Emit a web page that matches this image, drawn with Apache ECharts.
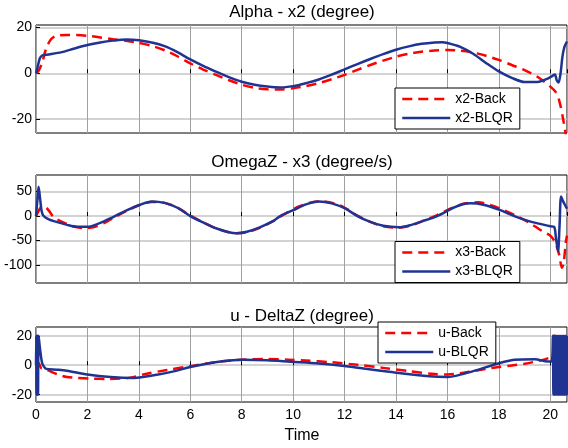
<!DOCTYPE html>
<html><head><meta charset="utf-8">
<script src="https://cdn.jsdelivr.net/npm/echarts@6/dist/echarts.min.js"></script>
<style>html,body{margin:0;padding:0;background:#fff}#c{width:568px;height:448px}</style>
</head><body><div id="c"></div>
<script>
// ---- data (time, value) ----
const titles = ['Alpha - x2 (degree)', 'OmegaZ - x3 (degree/s)', 'u - DeltaZ (degree)'];
const xLabel = 'Time';
const timeTicks = [0, 2, 4, 6, 8, 10, 12, 14, 16, 18, 20];
const alphaTicks = [-20, 0, 20];
const omegaTicks = [-100, -50, 0, 50];
const deltaTicks = [-20, 0, 20];

const alphaBack = [[0,0],[0.1,1],[0.25,5],[0.4,11],[0.6,15],[0.8,16.3],[1.2,16.7],[2,16.3],[2.5,15.6],[3,14.8],[3.5,14.1],[4,13.2],[4.5,11.9],[5,10],[5.5,7.4],[6,4.3],[6.5,1.6],[7,-0.7],[7.5,-3],[8,-5],[8.5,-6.3],[9,-7],[9.5,-7.1],[10,-6.5],[10.5,-5.6],[11,-4.3],[11.5,-2.6],[12,-0.7],[12.5,1.5],[13,3.6],[13.5,5.5],[14,7.2],[14.5,8.5],[15,9.4],[15.5,9.9],[16,10.1],[16.5,9.8],[17,9],[17.5,7.6],[18,5.8],[18.5,3.6],[19,1.4],[19.5,-1.5],[20,-5.8],[20.2,-8],[20.35,-12],[20.5,-20],[20.62,-28]];
const alphaBLQR = [[0,0],[0.05,2],[0.15,6.5],[0.25,7.8],[0.5,8.2],[1,9.2],[1.5,10.8],[2,12.3],[2.5,13.4],[3,14.2],[3.5,14.7],[4,14.4],[4.5,13.4],[5,11.8],[5.5,9.2],[6,6],[6.5,3.2],[7,0.7],[7.5,-1.7],[8,-3.7],[8.5,-5],[9,-5.8],[9.5,-6.2],[10,-5.6],[10.5,-4.3],[11,-2.7],[11.5,-0.6],[12,1.7],[12.5,4],[13,6.2],[13.5,8.3],[14,10.2],[14.5,11.7],[15,12.8],[15.5,13.4],[15.8,13.5],[16,13.2],[16.5,11.5],[17,8.5],[17.5,4.5],[18,0.8],[18.5,-2],[19,-3.8],[19.5,-3.8],[19.9,-2.3],[20.1,-1],[20.18,-0.5],[20.25,-3],[20.32,-4],[20.4,0],[20.47,7],[20.55,11.5],[20.65,13.8]];

const omegaBack = [[0,0],[0.1,10],[0.2,18],[0.35,18],[0.5,11],[0.65,0],[0.8,-6],[1.2,-16],[1.5,-22],[1.9,-25],[2.3,-22],[2.7,-13],[3,-4],[3.5,10],[4,22],[4.5,29],[5,27],[5.5,17],[6,1],[6.5,-13],[7,-25],[7.5,-33],[7.8,-35],[8.2,-33],[8.7,-24],[9.2,-11],[9.7,5],[10.2,19],[10.7,28],[11.1,30],[11.6,26],[12,17],[12.5,1],[13,-12],[13.5,-21],[14.1,-24],[14.6,-19],[15,-11],[15.6,2],[16.2,17],[16.7,26],[17.2,28],[17.7,22],[18.2,12],[18.7,0],[19.2,-14],[19.6,-28],[19.8,-34],[20,-40],[20.2,-55],[20.35,-80],[20.45,-106],[20.52,-96],[20.6,-55],[20.65,-40]];
const omegaBLQR = [[0,0],[0.05,30],[0.1,60],[0.15,40],[0.22,10],[0.3,0],[0.5,-7],[0.8,-12],[1.2,-18],[1.6,-22],[2,-22],[2.5,-14],[3,-2],[3.5,11],[4,22],[4.5,30],[5,27],[5.5,17],[6,0],[6.5,-13],[7,-25],[7.5,-33],[7.8,-35],[8.2,-32],[8.7,-23],[9.2,-11],[9.5,0],[10,12],[10.5,24],[11,30],[11.5,26],[12,16],[12.5,0],[13,-12],[13.5,-20],[14.1,-23],[14.6,-18],[15,-11],[15.6,0],[16.2,16],[16.6,24],[16.9,26],[17.4,23],[18,13],[18.6,0],[19.2,-11],[19.6,-16],[20,-21],[20.15,-22],[20.22,-45],[20.3,-72],[20.36,-20],[20.42,40],[20.5,30],[20.6,20],[20.65,15]];

const deltaBack = [[0,0],[0.1,1.5],[0.2,-2],[0.35,-2.5],[0.6,-4.5],[0.85,-6.3],[1.2,-8],[1.6,-8.6],[2.1,-9.1],[2.8,-9.3],[3.6,-8.6],[4.3,-5.8],[5.1,-3.2],[6,-0.6],[7,2.2],[8,3.8],[9,4.2],[9.8,3.8],[10.5,3.2],[11.5,2],[12.5,0.3],[13.5,-1.8],[14.5,-4],[15.5,-6],[16,-6.3],[16.5,-5.5],[17,-4],[17.5,-2.5],[18,-1.2],[18.5,-0.2],[19,1],[19.5,2.8],[19.9,4.7],[20.1,6.5],[20.15,20],[20.2,20]];
const deltaBLQR = [[0,0],[0.01,20],[0.02,-20],[0.03,20],[0.04,-20],[0.05,20],[0.06,-20],[0.07,20],[0.08,-20],[0.1,20],[0.15,12],[0.22,3],[0.27,0],[0.4,-2.5],[0.8,-3],[1.2,-3.7],[2,-6.3],[2.9,-8],[3.8,-8.6],[4.7,-6.5],[5.4,-4],[6,-1.2],[6.9,1.9],[8,3.7],[9,3.4],[9.9,2.4],[11,1.2],[12,-0.5],[12.6,-1.9],[13.9,-4.8],[15.3,-7.5],[16,-8],[16.7,-5.5],[17.3,-2.5],[17.8,0.3],[18.6,3.7],[19.4,4.1],[19.9,2.5],[20.05,2.5],[20.1,20],[20.12,-20],[20.14,20],[20.16,-20],[20.18,20],[20.2,-20],[20.22,20],[20.24,-20],[20.26,20],[20.28,-20],[20.3,20],[20.32,-20],[20.34,20],[20.36,-20],[20.38,20],[20.4,-20],[20.42,20],[20.44,-20],[20.46,20],[20.48,-20],[20.5,20],[20.52,-20],[20.54,20],[20.56,-20],[20.58,20],[20.6,-20],[20.62,20],[20.64,-20],[20.66,20]];

const names = [['x2-Back','x2-BLQR'],['x3-Back','x3-BLQR'],['u-Back','u-BLQR']];
const yRanges = [[-26,21],[-137,84],[-25,26]];
const yTicks = [alphaTicks, omegaTicks, deltaTicks];
const seriesData = [[alphaBack, alphaBLQR],[omegaBack, omegaBLQR],[deltaBack, deltaBLQR]];

// ---- layout ----
const FONT = '"Liberation Sans", Arial, Helvetica, sans-serif';
const gridTops = [25, 175, 327];
const gridHeights = [108, 108, 75];
const titleY = [12.5, 162.5, 316];
const legendPos = [[395, 88],[395, 241.5],[378, 322]];
const RED = '#ff0000', BLUE = '#1f3393';

const chart = echarts.init(document.getElementById('c'), null, {renderer:'canvas'});
const grid = [], xAxis = [], yAxis = [], series = [], legend = [], graphic = [];
for (let i = 0; i < 3; i++) {
  grid.push({left:36, right:1, top:gridTops[i], height:gridHeights[i], show:true, borderColor:'#000', borderWidth:1, backgroundColor:'#fff', containLabel:false});
  xAxis.push({type:'value', gridIndex:i, min:0, max:20.65, interval:2,
    axisLine:{show:false}, axisTick:{show:true, inside:true, length:4, lineStyle:{color:'#000'}},
    axisLabel:{show:i===2, showMaxLabel:false, color:'#000', fontSize:14, fontFamily:FONT, margin:6},
    splitLine:{show:true, lineStyle:{color:'#a0a0a0', width:1}}});
  yAxis.push({type:'value', gridIndex:i, min:yRanges[i][0], max:yRanges[i][1],
    axisLine:{show:false}, axisTick:{show:true, inside:true, length:4, customValues:yTicks[i], lineStyle:{color:'#000'}},
    axisLabel:{show:true, customValues:yTicks[i], color:'#000', fontSize:14, fontFamily:FONT, margin:4},
    splitLine:{show:true, lineStyle:{color:'#c4c4c4', width:1.5}}});
  series.push({name:names[i][0], type:'line', xAxisIndex:i, yAxisIndex:i, data:seriesData[i][0], symbol:'none', smooth:0.3,
    lineStyle:{color:RED, width:2.5, type:[10,6]}, itemStyle:{color:RED}, animation:false});
  series.push({name:names[i][1], type:'line', xAxisIndex:i, yAxisIndex:i, data:seriesData[i][1], symbol:'none', smooth:0.3,
    lineStyle:{color:BLUE, width:2.5}, itemStyle:{color:BLUE}, animation:false});
  legend.push({data:names[i], orient:'vertical', left:legendPos[i][0], top:legendPos[i][1],
    itemWidth:48, itemHeight:14, itemGap:5, padding:[4,7,4,6], backgroundColor:'#fff', borderColor:'#000', borderWidth:1,
    itemStyle:{opacity:0}, lineStyle:{opacity:1, width:2.5},
    textStyle:{color:'#000', fontSize:14, fontFamily:FONT}, selectedMode:false});
  graphic.push({type:'text', x:302, y:titleY[i], style:{text:titles[i], font:'17px ' + FONT, fill:'#000', align:'center', verticalAlign:'middle'}});
}
graphic.push({type:'text', x:302, y:436, style:{text:xLabel, font:'16px ' + FONT, fill:'#000', align:'center', verticalAlign:'middle'}});

chart.setOption({animation:false, backgroundColor:'#fff', grid, xAxis, yAxis, series, legend, graphic});
</script></body></html>
